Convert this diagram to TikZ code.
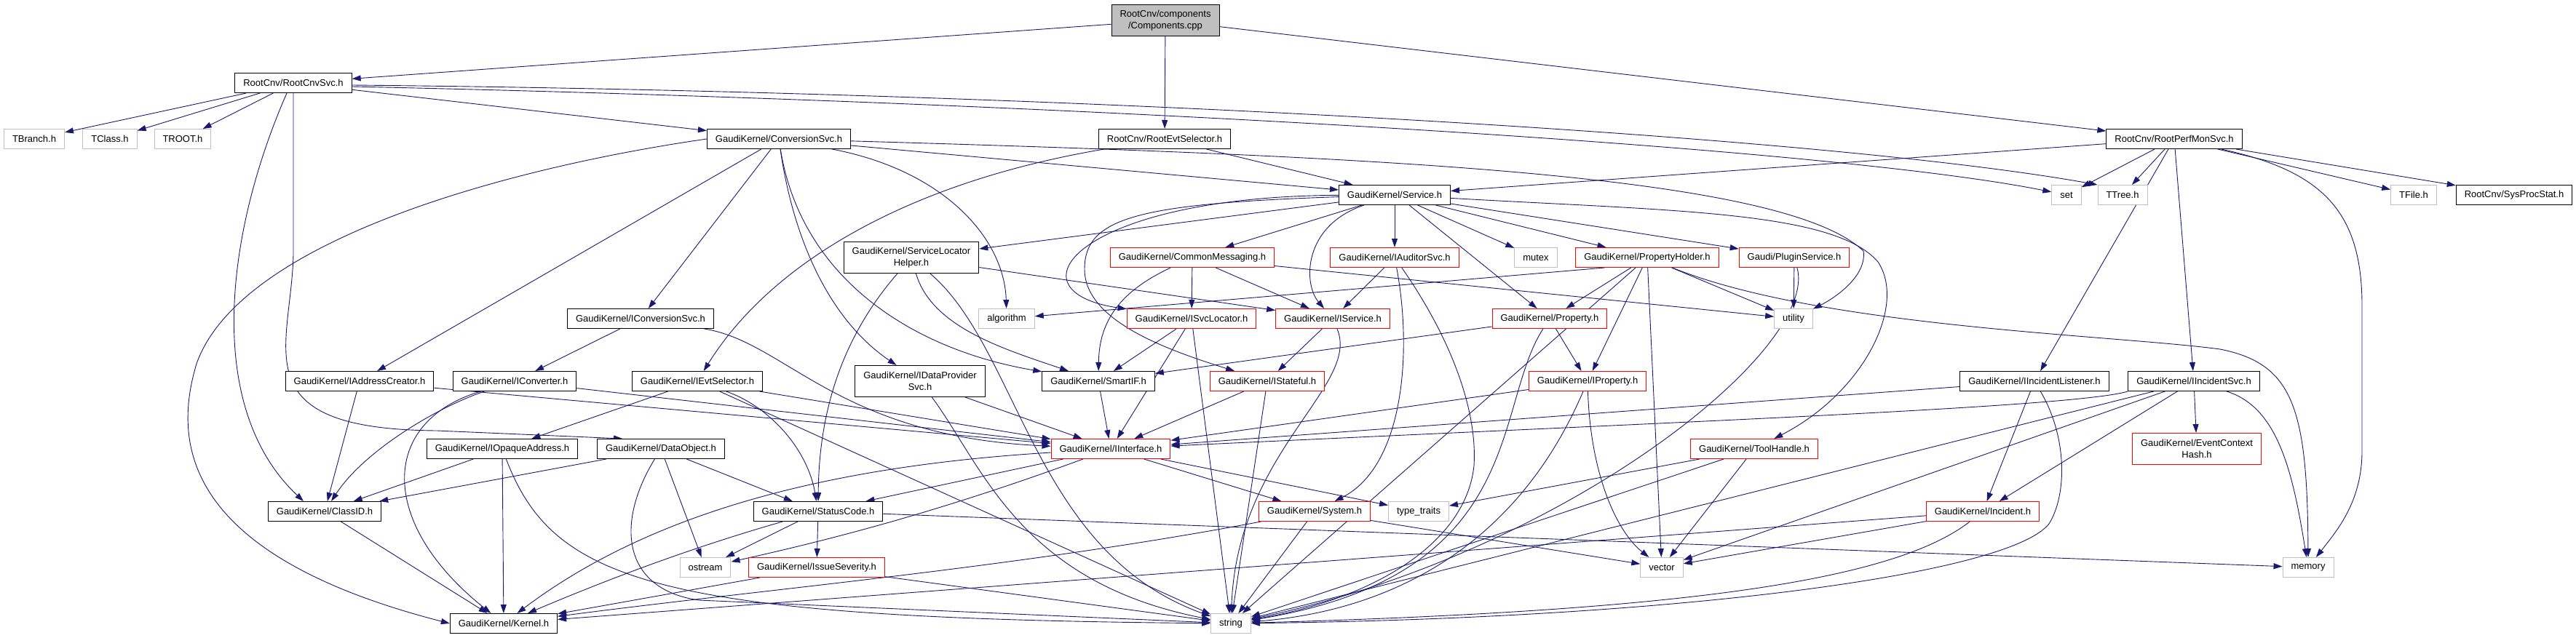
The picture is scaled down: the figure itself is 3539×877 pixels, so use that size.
\documentclass[tikz,border=0pt]{standalone}
\usepackage{fontspec}
\setmainfont{Liberation Sans}
\usepackage{xcolor}
\usetikzlibrary{arrows.meta}
\definecolor{edgeblue}{HTML}{191970}
\definecolor{extgray}{HTML}{BFBFBF}
\pgfdeclarelayer{edges}
\pgfsetlayers{edges,main}
\begin{document}
\begin{tikzpicture}[x=1pt, y=-1pt,
    filebox/.style={rectangle, fill=white, line width=1pt, inner xsep=11.5pt, inner ysep=0pt, minimum height=27pt, font=\fontsize{13}{16}\selectfont, align=center},
    doc/.style={filebox, draw=black},
    trunc/.style={filebox, draw=red},
    ext/.style={filebox, draw=extgray},
    rootfile/.style={filebox, draw=black, fill=extgray},
    tall/.style={minimum height=43pt},
    dep/.style={draw=edgeblue, line width=0.9pt, -{Triangle[length=12pt, width=8pt]}}]
    \useasboundingbox (0,0) rectangle (3539,877);

    \node[rootfile, tall] (comp) at (1601,28) {RootCnv/components\\/Components.cpp};
    \node[doc] (cnvsvc) at (403,114) {RootCnv/RootCnvSvc.h};
    \node[ext] (tbranch) at (47,191) {TBranch.h};
    \node[ext] (tclass) at (151,191) {TClass.h};
    \node[ext] (troot) at (251,191) {TROOT.h};
    \node[doc] (convsvc) at (1070,191) {GaudiKernel/ConversionSvc.h};
    \node[doc] (evtsel) at (1600,191) {RootCnv/RootEvtSelector.h};
    \node[doc] (perfmon) at (2987,191) {RootCnv/RootPerfMonSvc.h};
    \node[doc] (service) at (1916,268) {GaudiKernel/Service.h};
    \node[ext] (stdset) at (2839,268) {set};
    \node[ext] (ttree) at (2916,268) {TTree.h};
    \node[ext] (tfile) at (3316,268) {TFile.h};
    \node[doc] (sysproc) at (3454,268) {RootCnv/SysProcStat.h};
    \node[doc, tall] (slh) at (1252,354) {GaudiKernel/ServiceLocator\\Helper.h};
    \node[trunc] (cmsg) at (1638,354) {GaudiKernel/CommonMessaging.h};
    \node[trunc] (iauditor) at (1916,354) {GaudiKernel/IAuditorSvc.h};
    \node[ext] (mutex) at (2110,354) {mutex};
    \node[trunc] (propholder) at (2263,354) {GaudiKernel/PropertyHolder.h};
    \node[trunc] (pluginsvc) at (2465,354) {Gaudi/PluginService.h};
    \node[doc] (iconvsvc) at (880,438) {GaudiKernel/IConversionSvc.h};
    \node[ext] (algorithm) at (1383,438) {algorithm};
    \node[trunc] (isvcloc) at (1637,438) {GaudiKernel/ISvcLocator.h};
    \node[trunc] (iservice) at (1831,438) {GaudiKernel/IService.h};
    \node[trunc] (property) at (2129,438) {GaudiKernel/Property.h};
    \node[ext] (utility) at (2464,438) {utility};
    \node[doc] (iaddrcr) at (494,524) {GaudiKernel/IAddressCreator.h};
    \node[doc] (iconverter) at (707,524) {GaudiKernel/IConverter.h};
    \node[doc] (ievtsel) at (958,524) {GaudiKernel/IEvtSelector.h};
    \node[doc, tall] (idatasvc) at (1264,524) {GaudiKernel/IDataProvider\\Svc.h};
    \node[doc] (smartif) at (1509,524) {GaudiKernel/SmartIF.h};
    \node[trunc] (istateful) at (1741,524) {GaudiKernel/IStateful.h};
    \node[trunc] (iproperty) at (2181,524) {GaudiKernel/IProperty.h};
    \node[doc] (iinclist) at (2795,524) {GaudiKernel/IIncidentListener.h};
    \node[doc] (iincsvc) at (3014,524) {GaudiKernel/IIncidentSvc.h};
    \node[doc] (iopaque) at (690,617) {GaudiKernel/IOpaqueAddress.h};
    \node[doc] (dataobj) at (908,617) {GaudiKernel/DataObject.h};
    \node[trunc] (iinterface) at (1526,617) {GaudiKernel/IInterface.h};
    \node[trunc] (toolhandle) at (2410,617) {GaudiKernel/ToolHandle.h};
    \node[trunc, tall] (evctx) at (3018,617) {GaudiKernel/EventContext\\Hash.h};
    \node[doc] (classid) at (446,703) {GaudiKernel/ClassID.h};
    \node[doc] (statuscode) at (1124,703) {GaudiKernel/StatusCode.h};
    \node[trunc] (system) at (1806,703) {GaudiKernel/System.h};
    \node[ext] (typetraits) at (1949,703) {type\_traits};
    \node[trunc] (incident) at (2724,703) {GaudiKernel/Incident.h};
    \node[ext] (ostream) at (969,780) {ostream};
    \node[trunc] (issuesev) at (1122,780) {GaudiKernel/IssueSeverity.h};
    \node[ext] (vector) at (2283,780) {vector};
    \node[ext] (memory) at (3171,780) {memory};
    \node[doc] (kernel) at (692,857) {GaudiKernel/Kernel.h};
    \node[ext] (string) at (1691,857) {string};

    \begin{pgfonlayer}{edges}
    \draw[dep] (comp) -- (cnvsvc);
    \draw[dep] (comp) -- (evtsel);
    \draw[dep] (comp) -- (perfmon);

    \draw[dep] (cnvsvc) -- (tbranch);
    \draw[dep] (cnvsvc) -- (tclass);
    \draw[dep] (cnvsvc) -- (troot);
    \draw[dep] (cnvsvc) -- (convsvc);
    \draw[dep] ([yshift=-5pt]cnvsvc.east) .. controls (1450,140) and (2500,200) .. (stdset);
    \draw[dep] ([yshift=-3pt]cnvsvc.east) .. controls (1450,126) and (2500,185) .. (ttree.north west);
    \draw[dep] ([xshift=-9pt]cnvsvc.south) .. controls (310,320) and (280,560) .. ([xshift=-29pt]classid.north);
    \draw[dep] (cnvsvc) -- (403,350) .. controls (400,480) and (330,590) .. (600,592) -- ([xshift=35pt]dataobj.north west);

    \draw[dep] (evtsel) -- (service);
    \draw[dep] (evtsel) .. controls (1250,250) and (1060,360) .. (ievtsel);

    \draw[dep] (perfmon) -- (service);
    \draw[dep] (perfmon) -- (stdset);
    \draw[dep] (perfmon) -- (ttree);
    \draw[dep] (perfmon) -- (tfile);
    \draw[dep] (perfmon) -- (sysproc);
    \draw[dep] (perfmon) -- (iincsvc);
    \draw[dep] (perfmon) -- (iinclist);
    \draw[dep] (perfmon) .. controls (3190,235) and (3245,290) .. (3245,420) -- (3245,620) .. controls (3245,690) and (3210,730) .. (memory);

    \draw[dep] (convsvc) -- (iaddrcr);
    \draw[dep] (convsvc) -- (iconvsvc);
    \draw[dep] (convsvc) .. controls (1090,330) and (1140,440) .. (idatasvc);
    \draw[dep] (convsvc) .. controls (1300,235) and (1380,330) .. (algorithm);
    \draw[dep] (convsvc) -- (service);
    \draw[dep] (convsvc) .. controls (1100,380) and (1250,480) .. (smartif);
    \draw[dep] (convsvc) .. controls (1900,215) and (2450,240) .. (2560,345) .. controls (2565,380) and (2520,410) .. (utility);
    \draw[dep] (convsvc.west) .. controls (700,230) and (330,330) .. (270,500) .. controls (240,600) and (240,760) .. (kernel.west);

    \draw[dep] (iaddrcr) -- (classid);
    \draw[dep] (iaddrcr) -- (iinterface);

    \draw[dep] (iconvsvc) -- (iconverter);
    \draw[dep] (iconvsvc) .. controls (1080,470) and (1150,600) .. (iinterface);

    \draw[dep] (iconverter) .. controls (600,560) and (500,620) .. (classid);
    \draw[dep] (iconverter) -- (iinterface);
    \draw[dep] (iconverter) .. controls (520,580) and (520,720) .. (kernel);

    \draw[dep] (ievtsel) -- (iopaque);
    \draw[dep] (ievtsel) .. controls (1060,560) and (1110,620) .. (statuscode);
    \draw[dep] (ievtsel) -- (iinterface);
    \draw[dep] (ievtsel) -- (string);

    \draw[dep] (iopaque) -- (classid);
    \draw[dep] (iopaque) -- (kernel);
    \draw[dep] (iopaque) .. controls (760,800) and (900,850) .. (string);

    \draw[dep] (dataobj) -- (classid);
    \draw[dep] (dataobj) -- (statuscode);
    \draw[dep] (dataobj) -- (ostream);
    \draw[dep] (dataobj) .. controls (845,720) and (855,810) .. (960,825) -- (string);

    \draw[dep] (classid) -- (kernel);

    \draw[dep] (idatasvc) -- (iinterface);
    \draw[dep] (idatasvc) .. controls (1350,640) and (1400,800) .. (string);

    \draw[dep] (slh) .. controls (1160,460) and (1125,560) .. (statuscode);
    \draw[dep] (slh) .. controls (1280,450) and (1380,480) .. (smartif);
    \draw[dep] (slh) .. controls (1400,480) and (1420,760) .. (string);
    \draw[dep] (slh) -- (iservice);

    \draw[dep] (cmsg) -- (isvcloc);
    \draw[dep] (cmsg) .. controls (1540,400) and (1510,440) .. (smartif);
    \draw[dep] (cmsg) -- (iservice);
    \draw[dep] (cmsg) -- (utility);

    \draw[dep] (isvcloc) -- (smartif);
    \draw[dep] (isvcloc) -- (iinterface);
    \draw[dep] (isvcloc) -- (string);

    \draw[dep] (iservice) -- (istateful);
    \draw[dep] (iservice) .. controls (1870,530) and (1700,620) .. (string);

    \draw[dep] (iauditor) -- (iservice);
    \draw[dep] (iauditor) .. controls (1940,480) and (1930,640) .. (system);
    \draw[dep] (iauditor) .. controls (1990,460) and (2030,560) .. (2025,640) .. controls (2015,740) and (1900,820) .. (string);

    \draw[dep] (property) -- (iproperty);
    \draw[dep] (property) -- (smartif);
    \draw[dep] (property) .. controls (2050,560) and (2100,790) .. (string);

    \draw[dep] (propholder) -- (property);
    \draw[dep] (propholder) -- (iproperty);
    \draw[dep] (propholder) -- (vector);
    \draw[dep] ([xshift=40pt]propholder.south west) -- (algorithm);
    \draw[dep] (propholder) -- (utility);
    \draw[dep] (propholder) -- (string);
    \draw[dep] (propholder) .. controls (2500,450) and (2900,460) .. (3050,480) .. controls (3150,500) and (3170,560) .. (memory);

    \draw[dep] (pluginsvc) -- (utility);
    \draw[dep] (pluginsvc) .. controls (2500,480) and (2150,760) .. (string);

    \draw[dep] (service) -- (iauditor);
    \draw[dep] (service) -- (mutex);
    \draw[dep] (service) -- (propholder);
    \draw[dep] (service) -- (pluginsvc);
    \draw[dep] (service) -- (cmsg);
    \draw[dep] (service) -- (slh);
    \draw[dep] (service) .. controls (1480,270) and (1380,400) .. (isvcloc);
    \draw[dep] (service) .. controls (1790,310) and (1790,390) .. (iservice);
    \draw[dep] (service) .. controls (1560,280) and (1490,300) .. (1490,370) .. controls (1490,440) and (1600,480) .. (istateful);
    \draw[dep] ([xshift=20pt]service.south) -- (property);
    \draw[dep] (service) .. controls (2300,290) and (2520,290) .. (2580,360) .. controls (2620,420) and (2560,540) .. (toolhandle);

    \draw[dep] (istateful) -- (iinterface);
    \draw[dep] (istateful) -- (string);

    \draw[dep] (smartif) -- (iinterface);

    \draw[dep] (iinterface) -- (statuscode);
    \draw[dep] (iinterface) .. controls (1150,640) and (900,700) .. (kernel);
    \draw[dep] (iinterface) -- (typetraits);
    \draw[dep] (iinterface) -- (system);
    \draw[dep] (iinterface) .. controls (1300,700) and (1150,740) .. (ostream);

    \draw[dep] (statuscode) -- (issuesev);
    \draw[dep] (statuscode) -- (ostream);
    \draw[dep] (statuscode) .. controls (960,750) and (850,790) .. (kernel);
    \draw[dep] (statuscode) -- (memory);

    \draw[dep] (issuesev) -- (kernel);
    \draw[dep] (issuesev) -- (string);

    \draw[dep] (system) .. controls (1400,780) and (1050,810) .. (kernel);
    \draw[dep] (system) -- (vector);
    \draw[dep] (system) -- (string);

    \draw[dep] (iproperty) -- (iinterface);
    \draw[dep] (iproperty) .. controls (2185,650) and (2220,730) .. (vector);
    \draw[dep] (iproperty) .. controls (2080,760) and (1900,840) .. (string);

    \draw[dep] (toolhandle) -- (typetraits);
    \draw[dep] (toolhandle) -- (vector);
    \draw[dep] (toolhandle) -- (string);

    \draw[dep] (iinclist) -- (iinterface);
    \draw[dep] (iinclist) -- (incident);
    \draw[dep] (iinclist) .. controls (2840,600) and (2840,680) .. (2815,720) .. controls (2760,790) and (2300,850) .. (string);

    \draw[dep] (iincsvc) -- (evctx);
    \draw[dep] (iincsvc) .. controls (3130,560) and (3150,650) .. (memory);
    \draw[dep] (iincsvc) -- (incident);
    \draw[dep] (iincsvc.south west) .. controls (2850,560) and (2300,580) .. (iinterface);
    \draw[dep] (iincsvc) -- (vector);
    \draw[dep] (iincsvc) -- (string);

    \draw[dep] (incident) .. controls (2600,800) and (2300,840) .. (string);
    \draw[dep] (incident) -- (kernel);
    \draw[dep] (incident) -- (vector);
    \end{pgfonlayer}
\end{tikzpicture}
\end{document}
